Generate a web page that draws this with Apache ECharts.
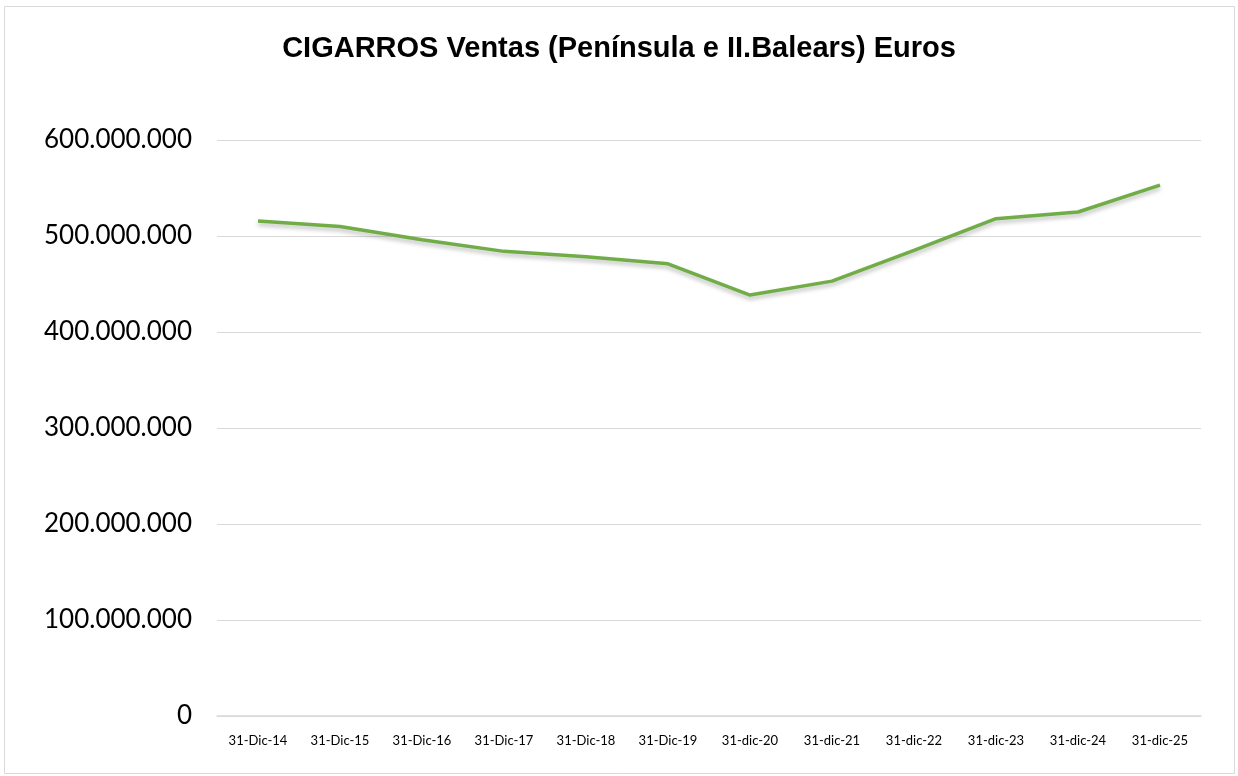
<!DOCTYPE html>
<html>
<head>
<meta charset="utf-8">
<script src="https://cdn.jsdelivr.net/npm/echarts@6/dist/echarts.min.js"></script>
<style>
  html, body { margin: 0; padding: 0; background: #fff; }
  #chart { width: 1238px; height: 776px; }
</style>
</head>
<body>
<div id="chart"></div>
<script>
// datos
var fechas = ['31-Dic-14', '31-Dic-15', '31-Dic-16', '31-Dic-17', '31-Dic-18', '31-Dic-19',
              '31-dic-20', '31-dic-21', '31-dic-22', '31-dic-23', '31-dic-24', '31-dic-25'];
var ventas = [515500000, 510000000, 496000000, 484000000, 478500000, 471000000,
              438500000, 453000000, 485000000, 518000000, 525000000, 553000000];
var ejeY = [0, 100000000, 200000000, 300000000, 400000000, 500000000, 600000000];

function formatoMiles(v) {
    return String(v).replace(/\B(?=(\d{3})+(?!\d))/g, '.');
}

var chart = echarts.init(document.getElementById('chart'));
var option = {
    animation: false,
    title: {
        text: 'CIGARROS Ventas (Península e II.Balears) Euros',
        left: 'center',
        top: 29,
        textStyle: {
            fontFamily: 'Liberation Sans',
            fontWeight: 'bold',
            fontSize: 29,
            color: '#000'
        }
    },
    graphic: [{
        type: 'rect',
        shape: { x: 4.5, y: 6.5, width: 1230, height: 767 },
        style: { fill: 'none', stroke: '#d9d9d9', lineWidth: 1 },
        silent: true
    }],
    grid: { left: 217, right: 37, top: 140, bottom: 60 },
    xAxis: {
        type: 'category',
        data: fechas,
        boundaryGap: true,
        axisLine: { lineStyle: { color: '#d9d9d9', width: 1.5 } },
        axisTick: { show: false },
        axisLabel: {
            interval: 0,
            margin: 18,
            fontFamily: 'Lato',
            fontSize: 13,
            color: '#000'
        }
    },
    yAxis: {
        type: 'value',
        min: ejeY[0],
        max: ejeY[ejeY.length - 1],
        interval: 100000000,
        axisLine: { show: false },
        axisTick: { show: false },
        splitLine: { lineStyle: { color: '#d9d9d9', width: 1 } },
        axisLabel: {
            margin: 25,
            fontFamily: 'Lato',
            fontSize: 26,
            color: '#000',
            formatter: formatoMiles
        }
    },
    series: [{
        type: 'line',
        data: ventas,
        symbol: 'none',
        lineStyle: {
            color: '#70ad47',
            width: 3.5,
            shadowColor: 'rgba(0,0,0,0.25)',
            shadowBlur: 4,
            shadowOffsetY: 3
        }
    }]
};
chart.setOption(option);
</script>
</body>
</html>
